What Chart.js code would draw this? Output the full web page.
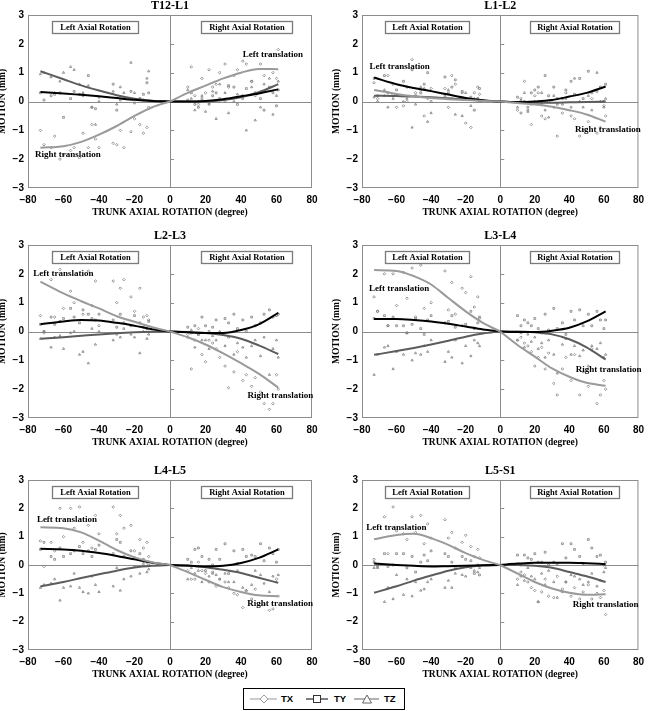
<!DOCTYPE html>
<html>
<head>
<meta charset="utf-8">
<script src="https://cdn.jsdelivr.net/npm/chart.js@4.4.0/dist/chart.umd.min.js"></script>
<style>
  body { margin: 0; background: #fff; width: 650px; height: 711px; position: relative; overflow: hidden; }
  canvas { position: absolute; display: block; }
  #legend {
    position: absolute; left: 243px; top: 688px; width: 160px; height: 20px;
    border: 1px solid #000; background: #fff;
    font: bold 9.5px "Liberation Sans", Arial, sans-serif;
  }
  #legend svg, #legend b { position: absolute; top: 5px; }
  #legend b { top: 4px; line-height: 12px; }
</style>
</head>
<body>
<canvas id="c0" width="325" height="230" style="left:0;top:0"></canvas>
<canvas id="c1" width="325" height="230" style="left:325px;top:0"></canvas>
<canvas id="c2" width="325" height="230" style="left:0;top:230px"></canvas>
<canvas id="c3" width="325" height="230" style="left:325px;top:230px"></canvas>
<canvas id="c4" width="325" height="225" style="left:0;top:460px"></canvas>
<canvas id="c5" width="325" height="225" style="left:325px;top:460px"></canvas>

<div id="legend">
  <svg style="left:6px" width="27" height="10"><line x1="0" y1="5" x2="27" y2="5" stroke="#9a9a9a" stroke-width="1"/><polygon points="14,1 18,5 14,9 10,5" fill="#fff" stroke="#9a9a9a"/></svg>
  <b style="left:37px">TX</b>
  <svg style="left:62px" width="22" height="10"><line x1="0" y1="5" x2="22" y2="5" stroke="#000" stroke-width="1"/><rect x="7.5" y="1.5" width="7" height="7" fill="#fff" stroke="#333"/></svg>
  <b style="left:90px">TY</b>
  <svg style="left:110px" width="25" height="10"><line x1="0" y1="5" x2="25" y2="5" stroke="#666" stroke-width="1"/><polygon points="13,1 17.5,9 8.5,9" fill="#fff" stroke="#666"/></svg>
  <b style="left:140px">TZ</b>
</div>

<script>
// trunk rotation angles of the measured points (two sets of subjects)
const angleA = [-73,-67,-62,-56,-51,-46,-42,-32,-28,-22,-17,-13, 10,14,18,22,26,31,36,41,46,51,56,61];
const angleB = [-71,-65,-60,-54,-49,-44,-40,-30,-26,-20,-15,-12, 12,16,20,24,28,33,38,43,48,53,58,60];

// x positions of the fitted curves
const fitLeftX = [-73,-60,-50,-40,-30,-20,-10,0];
const fitRightX = [0,10,20,30,40,50,61];

const panelTitles = ["T12-L1","L1-L2","L2-L3","L3-L4","L4-L5","L5-S1"];
const xTicks = [-80,-60,-40,-20,0,20,40,60,80];
const yTicks = [-3,-2,-1,0,1,2,3];

// ---- T12-L1 ----
const t12_txA = [-1.0,-1.6,-2.0,-1.7,-1.95,-1.6,-1.3,-1.45,-1.0,-1.05,-0.8,-0.9, 0.5,0.2,0.8,1.1,0.6,1.3,0.9,1.4,0.7,1.3,1.6,1.8];
const t12_txB = [-1.5,-1.2,-1.85,-1.6,-1.1,-0.8,-1.6,-1.5,-1.6,-0.6,-1.1,-0.2, 1.2,-0.1,0.3,0.5,1.0,0.5,1.1,1.3,0.2,0.9,1.0,0.8];
const t12_tyA = [0.3,0.2,0.3,0.1,0.25,0.9,-0.25,0.6,0.05,0.35,0.1,0.65, 0.05,-0.1,0.1,-0.05,0.3,0.0,0.5,0.2,0.7,0.1,0.5,0.4];
const t12_tyB = [0.05,0.25,-0.55,0.35,0.2,-0.2,0.15,-0.3,0.1,-0.05,0.25,0.3, 0.3,-0.2,0.0,0.2,0.1,0.55,-0.1,0.45,0.3,-0.3,0.3,-0.15];
const t12_tzA = [0.95,0.85,0.7,1.2,0.6,0.55,-0.8,0.35,0.5,1.35,0.1,0.8, 0.4,-0.3,0.2,-0.1,-0.6,0.3,0.0,0.1,0.5,-0.2,0.8,0.7];
const t12_tzB = [1.0,0.3,1.0,1.1,0.3,-0.2,0.0,-0.1,0.3,0.3,0.05,1.05, 0.1,0.0,-0.35,0.35,0.6,-0.4,0.25,-1.0,-0.65,0.6,-0.45,0.2];
const t12_txFitL = [-1.6,-1.55,-1.4,-1.15,-0.85,-0.5,-0.2,0];
const t12_txFitR = [0,0.3,0.55,0.8,1.0,1.13,1.12];
const t12_tyFitL = [0.33,0.28,0.23,0.18,0.12,0.06,0.02,0];
const t12_tyFitR = [0,0.0,0.02,0.08,0.18,0.28,0.42];
const t12_tzFitL = [1.05,0.77,0.56,0.38,0.22,0.1,0.03,0];
const t12_tzFitR = [0,0.0,0.0,0.05,0.15,0.32,0.6];

// ---- L1-L2 ----
const l12_txA = [0.65,0.2,0.25,-0.15,1.45,0.4,0.1,0.45,0.9,0.3,-0.9,0.5, -0.3,0.7,-0.8,0.3,-0.6,-0.2,-0.4,-0.5,-1.2,-0.7,-1.1,-0.5];
const l12_txB = [0.1,0.9,-0.2,0.0,0.3,-0.5,0.45,-0.2,0.6,-0.75,0.3,0.25, 0.1,-0.3,0.2,-0.5,0.0,-1.2,0.3,-0.6,-1.0,0.1,-0.9,-0.15];
const l12_tyA = [0.8,0.9,0.6,0.7,1.1,0.3,1.0,0.85,0.5,0.35,0.15,0.1, 0.15,0.0,0.3,0.5,0.9,0.5,0.1,0.7,0.8,1.05,0.35,0.6];
const l12_tyB = [0.2,0.3,0.4,0.5,0.2,0.6,0.0,0.3,0.75,0.1,-0.3,0.45, -0.4,-0.2,0.4,-0.1,0.2,0.1,0.4,0.25,0.1,0.3,0.5,0.0];
const l12_tzA = [0.15,0.4,0.1,0.0,-0.9,0.5,-0.7,0.2,0.1,-0.5,-0.15,0.1, -0.2,0.3,-0.1,0.0,-0.3,0.2,-0.1,-0.2,0.0,0.2,1.0,0.1];
const l12_tzB = [0.0,-0.2,0.2,0.1,-0.1,0.45,-0.4,0.4,-0.45,0.3,0.1,0.0, 0.05,-0.35,0.0,0.3,-0.55,-0.1,0.1,0.8,-0.2,-0.3,0.0,-0.2];
const l12_txFitL = [0.4,0.26,0.18,0.12,0.08,0.05,0.02,0];
const l12_txFitR = [0,-0.05,-0.1,-0.18,-0.3,-0.45,-0.7];
const l12_tyFitL = [0.83,0.6,0.47,0.36,0.24,0.12,0.04,0];
const l12_tyFitR = [0,-0.02,0.0,0.05,0.17,0.3,0.52];
const l12_tzFitL = [0.2,0.19,0.17,0.15,0.11,0.07,0.03,0];
const l12_tzFitR = [0,-0.03,-0.04,-0.04,-0.03,-0.02,0.0];

// ---- L2-L3 ----
const l23_txA = [0.55,1.8,2.15,1.4,2.45,2.1,1.75,1.75,1.5,1.2,1.5,0.55, -0.1,-0.3,-0.8,-0.3,-0.6,-1.2,-1.4,-1.7,-1.9,-2.1,-2.7,-2.0];
const l23_txB = [-0.05,0.5,0.8,1.0,0.6,0.9,0.2,1.0,1.8,0.7,0.5,0.4, -1.3,0.1,-1.05,-0.4,-0.9,-1.95,-0.7,-1.5,-1.6,-2.5,-2.5,-1.5];
const l23_tyA = [0.25,0.5,0.35,0.8,0.3,0.6,0.4,0.4,0.6,0.2,0.3,0.1, 0.15,0.2,0.5,0.0,0.4,0.45,0.6,0.4,0.5,0.3,0.75,0.6];
const l23_tyB = [0.0,0.25,0.45,0.5,0.75,0.45,0.6,0.15,0.3,0.55,0.15,0.35, -0.05,-0.1,0.2,0.15,-0.05,0.3,0.1,0.0,0.2,0.6,0.5,0.55];
const l23_tzA = [-0.25,-0.55,-0.15,-0.05,-0.8,-1.1,-0.45,-0.3,-0.2,-0.1,-0.75,-0.25, -0.2,-0.55,-0.3,-0.6,-0.3,-0.5,-0.8,-0.55,-0.5,-0.85,-1.5,-0.9];
const l23_tzB = [0.0,-0.2,-0.6,0.0,-0.7,0.1,0.0,-0.1,0.1,-0.2,0.0,-0.1, 0.05,-0.1,-0.3,-0.15,0.0,-0.2,-0.4,-0.9,-0.3,-0.2,-0.6,-0.3];
const l23_txFitL = [1.73,1.32,1.05,0.8,0.53,0.34,0.15,0];
const l23_txFitR = [0,-0.2,-0.45,-0.76,-1.1,-1.46,-1.95];
const l23_tyFitL = [0.25,0.35,0.4,0.38,0.3,0.2,0.08,0];
const l23_tyFitR = [0,-0.03,-0.05,-0.05,0.05,0.25,0.65];
const l23_tzFitL = [-0.25,-0.2,-0.15,-0.1,-0.06,-0.03,-0.01,0];
const l23_tzFitR = [0,-0.02,-0.05,-0.12,-0.25,-0.48,-0.78];

// ---- L3-L4 ----
const l34_txA = [1.2,2.0,2.0,2.05,2.2,2.3,2.4,2.1,1.7,1.5,1.9,1.2, -0.3,-0.4,-0.7,-0.9,-1.3,-1.8,-1.3,-1.7,-2.2,-1.9,-2.5,-2.0];
const l34_txB = [0.7,0.2,0.9,1.15,0.5,0.8,1.0,0.75,0.6,1.35,0.85,0.45, -0.2,-0.5,-1.2,-0.55,-0.75,-2.2,-0.9,-0.8,-1.4,-0.6,-2.2,-1.7];
const l34_tyA = [0.45,0.55,0.5,0.2,0.25,0.1,0.4,0.3,0.55,0.2,0.7,0.3, 0.55,0.4,0.2,0.1,0.6,0.8,0.3,0.7,0.75,0.6,0.7,0.4];
const l34_tyB = [0.7,0.2,0.2,-0.05,0.45,-0.1,0.55,0.35,0.15,0.25,0.1,0.5, 0.2,0.3,0.45,-0.05,0.05,0.1,-0.1,0.4,0.2,0.2,0.4,0.1];
const l34_tzA = [-1.5,-0.55,-1.3,-0.8,-1.0,-0.8,-0.7,-1.05,-0.9,-1.1,-0.85,-0.4, -0.3,-0.55,-0.35,-0.6,-0.9,-0.8,-0.45,-0.8,-0.85,-1.2,-0.6,-0.8];
const l34_tzB = [-0.8,-0.5,-0.7,-0.05,-0.75,-0.5,-0.3,-0.7,-0.3,-0.5,-0.3,-0.5, -0.05,-0.1,-0.2,-0.4,-0.3,-1.45,-0.25,-0.5,-0.65,-0.5,-0.4,-0.9];
const l34_txFitL = [2.13,2.1,1.92,1.63,1.16,0.7,0.3,0];
const l34_txFitR = [0,-0.47,-0.87,-1.28,-1.57,-1.78,-1.88];
const l34_tyFitL = [0.43,0.43,0.4,0.35,0.27,0.17,0.07,0];
const l34_tyFitR = [0,-0.02,-0.02,0.03,0.13,0.35,0.7];
const l34_tzFitL = [-0.81,-0.68,-0.57,-0.45,-0.32,-0.18,-0.07,0];
const l34_tzFitR = [0,0.0,-0.03,-0.1,-0.27,-0.55,-0.97];

// ---- L4-L5 ----
const l45_txA = [0.85,0.8,2.0,2.0,2.05,1.4,1.75,2.05,1.75,1.4,0.9,0.8, -0.2,-0.5,-0.2,-0.6,-0.75,-0.6,-1.0,-1.5,-1.2,-1.4,-1.6,-1.1];
const l45_txB = [-0.05,0.5,1.0,1.3,0.8,0.6,1.1,1.1,1.3,0.5,0.6,0.3, -0.5,0.1,-0.3,-0.25,-0.5,-0.8,-1.05,-0.9,-0.85,-1.4,-1.55,-0.5];
const l45_tyA = [0.55,0.3,0.6,0.4,0.65,0.5,0.55,0.4,0.8,0.5,0.4,0.1, 0.2,0.55,0.3,0.2,0.55,0.75,0.5,0.55,0.35,0.75,0.6,0.55];
const l45_tyB = [0.8,0.2,0.3,0.5,0.4,0.3,0.7,0.9,0.3,0.25,0.2,0.0, 0.1,0.6,-0.2,0.0,0.2,-0.3,0.05,0.3,0.3,0.15,0.4,0.1];
const l45_tzA = [-0.8,-0.65,-1.25,-0.75,-0.8,-1.0,-0.7,-0.75,-0.9,-0.4,-0.3,-0.25, -0.5,-0.3,-0.6,-0.4,-0.35,-0.3,-0.6,-0.8,-0.7,-0.35,-0.95,-0.35];
const l45_tzB = [-0.7,-0.5,-0.8,-0.3,-0.95,-0.4,-0.95,-0.1,-0.5,-0.05,0.05,-0.15, -0.1,-0.2,-0.05,-0.3,-0.5,-0.6,-0.2,-0.9,-0.2,-0.65,-0.4,-0.6];
const l45_txFitL = [1.33,1.3,1.15,0.86,0.53,0.27,0.1,0];
const l45_txFitR = [0,-0.25,-0.52,-0.78,-0.95,-1.07,-1.1];
const l45_tyFitL = [0.57,0.55,0.5,0.42,0.32,0.2,0.08,0];
const l45_tyFitR = [0,-0.02,-0.05,-0.03,0.07,0.25,0.55];
const l45_tzFitL = [-0.76,-0.6,-0.46,-0.33,-0.2,-0.09,-0.03,0];
const l45_tzFitR = [0,-0.03,-0.08,-0.17,-0.28,-0.45,-0.63];

// ---- L5-S1 ----
const l5s_txA = [0.2,1.7,2.05,1.1,1.7,1.75,1.45,1.6,1.15,0.8,0.65,0.55, -0.5,-0.35,-0.8,-1.3,-0.5,-1.15,-0.85,-1.1,-1.2,-0.7,-1.0,-1.75];
const l5s_txB = [0.0,0.4,1.2,0.9,1.15,0.75,0.95,0.95,0.6,1.05,0.3,0.25, -0.25,-0.6,-0.9,-0.95,-1.1,-0.4,-0.6,-0.8,-0.95,-1.2,-1.15,-0.9];
const l5s_tyA = [0.1,0.4,0.0,0.4,0.3,0.1,0.15,0.4,0.1,0.3,0.15,0.0, 0.35,0.35,0.2,0.1,0.45,0.1,0.75,0.75,0.3,0.9,0.3,0.1];
const l5s_tyB = [-0.05,-0.05,0.4,-0.1,-0.25,0.35,0.5,0.3,-0.1,0.2,-0.3,-0.35, 0.0,0.25,0.4,0.1,0.0,0.05,0.25,0.55,0.05,0.6,0.35,0.0];
const l5s_tzA = [-0.1,-1.3,-1.2,-1.05,-1.1,-0.9,-0.6,-0.8,-0.8,-0.35,-0.1,-0.25, -0.7,-0.55,-0.4,-1.3,-0.7,-0.6,-0.95,-0.35,-0.5,-0.6,-0.75,-0.1];
const l5s_tzB = [-0.1,-0.8,-0.35,-0.5,-0.6,-0.85,-0.5,-0.55,-0.3,-0.4,-0.2,-0.1, -0.4,-0.1,-0.5,-0.3,-0.2,-1.15,-0.6,-0.4,-0.7,-0.3,-0.55,-0.25];
const l5s_txFitL = [0.91,1.06,1.1,0.95,0.71,0.42,0.18,0];
const l5s_txFitR = [0,-0.3,-0.6,-0.83,-0.98,-1.05,-1.03];
const l5s_tyFitL = [0.05,0.0,-0.03,-0.05,-0.04,-0.03,-0.01,0];
const l5s_tyFitR = [0,0.05,0.08,0.08,0.08,0.06,0.03];
const l5s_tzFitL = [-0.98,-0.75,-0.55,-0.37,-0.2,-0.08,-0.02,0];
const l5s_tzFitR = [0,0.0,-0.03,-0.1,-0.25,-0.4,-0.6];

// where "Left translation" / "Right translation" sit, [x, y] in data units
const leftLabelPos  = [[41,1.63],[-75.6,1.2],[-77,1.99],[-76,1.48],[-75,1.59],[-77.5,1.3]];
const rightLabelPos = [[-76,-1.83],[43.3,-0.99],[43.6,-2.21],[43.7,-1.34],[43.5,-1.38],[42,-1.39]];

const panels = [
  { tx:[t12_txA,t12_txB], ty:[t12_tyA,t12_tyB], tz:[t12_tzA,t12_tzB],
    fit:{tx:[t12_txFitL,t12_txFitR], ty:[t12_tyFitL,t12_tyFitR], tz:[t12_tzFitL,t12_tzFitR]} },
  { tx:[l12_txA,l12_txB], ty:[l12_tyA,l12_tyB], tz:[l12_tzA,l12_tzB],
    fit:{tx:[l12_txFitL,l12_txFitR], ty:[l12_tyFitL,l12_tyFitR], tz:[l12_tzFitL,l12_tzFitR]} },
  { tx:[l23_txA,l23_txB], ty:[l23_tyA,l23_tyB], tz:[l23_tzA,l23_tzB],
    fit:{tx:[l23_txFitL,l23_txFitR], ty:[l23_tyFitL,l23_tyFitR], tz:[l23_tzFitL,l23_tzFitR]} },
  { tx:[l34_txA,l34_txB], ty:[l34_tyA,l34_tyB], tz:[l34_tzA,l34_tzB],
    fit:{tx:[l34_txFitL,l34_txFitR], ty:[l34_tyFitL,l34_tyFitR], tz:[l34_tzFitL,l34_tzFitR]} },
  { tx:[l45_txA,l45_txB], ty:[l45_tyA,l45_tyB], tz:[l45_tzA,l45_tzB],
    fit:{tx:[l45_txFitL,l45_txFitR], ty:[l45_tyFitL,l45_tyFitR], tz:[l45_tzFitL,l45_tzFitR]} },
  { tx:[l5s_txA,l5s_txB], ty:[l5s_tyA,l5s_tyB], tz:[l5s_tzA,l5s_tzB],
    fit:{tx:[l5s_txFitL,l5s_txFitR], ty:[l5s_tyFitL,l5s_tyFitR], tz:[l5s_tzFitL,l5s_tzFitR]} }
];

const SERIF = '"Liberation Serif", "Times New Roman", serif';
const SANS = '"Liberation Sans", Arial, sans-serif';
const lineColor = { tx: "#9a9a9a", ty: "#000000", tz: "#5c5c5c" };
const markStyle = { tx: "rectRot", ty: "rect", tz: "triangle" };

function pts(xs, ys) {
  return xs.map((x, i) => ({ x: x, y: ys[i] }));
}
function minus(v) {
  return String(v).replace("-", "\u2212");
}

function buildDatasets(p) {
  const ds = [];
  ["tx", "ty", "tz"].forEach(k => {
    ds.push({
      data: pts(fitLeftX, p.fit[k][0]), showLine: true, pointRadius: 0,
      borderColor: lineColor[k], borderWidth: 2, tension: 0.4,
      cubicInterpolationMode: "monotone", order: 0
    });
    ds.push({
      data: pts(fitRightX, p.fit[k][1]), showLine: true, pointRadius: 0,
      borderColor: lineColor[k], borderWidth: 2, tension: 0.4,
      cubicInterpolationMode: "monotone", order: 0
    });
  });
  ["tx", "ty", "tz"].forEach(k => {
    ds.push({
      data: pts(angleA, p[k][0]).concat(pts(angleB, p[k][1])),
      showLine: false, pointStyle: markStyle[k], pointRadius: 1.3,
      borderWidth: 0.8, borderColor: "#808080", backgroundColor: "rgba(255,255,255,0)",
      order: 1
    });
  });
  return ds;
}

// frame, zero lines, boxes and all the text
const framePlugin = {
  id: "frame",
  beforeDatasetsDraw(chart) {
    const { ctx, chartArea: a, scales } = chart;
    const x0 = scales.x.getPixelForValue(0);
    const y0 = scales.y.getPixelForValue(0);
    ctx.save();
    ctx.strokeStyle = "#8c8c8c";
    ctx.lineWidth = 1;
    ctx.strokeRect(a.left + 0.5, a.top + 0.5, a.right - a.left - 1, a.bottom - a.top - 1);
    ctx.beginPath();
    ctx.moveTo(Math.round(x0) + 0.5, a.top);
    ctx.lineTo(Math.round(x0) + 0.5, a.bottom);
    ctx.moveTo(a.left, Math.round(y0) + 0.5);
    ctx.lineTo(a.right, Math.round(y0) + 0.5);
    yTicks.forEach(v => {
      if (v === 0 || Math.abs(v) === 3) return;
      const y = Math.round(scales.y.getPixelForValue(v)) + 0.5;
      ctx.moveTo(x0, y);
      ctx.lineTo(x0 + 4, y);
    });
    ctx.stroke();
    ctx.restore();
  },
  afterDatasetsDraw(chart, args, opts) {
    const { ctx, chartArea: a, scales } = chart;
    const sx = v => scales.x.getPixelForValue(v);
    const sy = v => scales.y.getPixelForValue(v);
    ctx.save();
    // rotation boxes
    [[-66.7, -17.8, "Left Axial Rotation"], [17.4, 68.6, "Right Axial Rotation"]].forEach(b => {
      const l = Math.round(sx(b[0])) + 0.5, r = Math.round(sx(b[1])) + 0.5;
      const t = Math.round(sy(2.8)) + 0.5, btm = Math.round(sy(2.37)) + 0.5;
      ctx.fillStyle = "#fff";
      ctx.fillRect(l, t, r - l, btm - t);
      ctx.strokeStyle = "#7a7a7a";
      ctx.lineWidth = 1.3;
      ctx.strokeRect(l, t, r - l, btm - t);
      ctx.fillStyle = "#000";
      ctx.font = "bold 8.5px " + SERIF;
      ctx.textAlign = "center";
      ctx.textBaseline = "middle";
      ctx.fillText(b[2], (l + r) / 2, (t + btm) / 2 + 0.5);
    });
    // translation labels
    ctx.font = "bold 9px " + SERIF;
    ctx.textAlign = "left";
    ctx.textBaseline = "middle";
    ctx.fillStyle = "#000";
    const lp = leftLabelPos[opts.idx], rp = rightLabelPos[opts.idx];
    ctx.fillText("Left translation", sx(lp[0]), sy(lp[1]));
    ctx.fillText("Right translation", sx(rp[0]), sy(rp[1]));
    // titles
    const cx = (a.left + a.right) / 2;
    ctx.textAlign = "center";
    ctx.font = "bold 12px " + SERIF;
    ctx.fillText(panelTitles[opts.idx], cx, a.top - 9);
    ctx.font = "bold 9.5px " + SERIF;
    ctx.fillText("TRUNK AXIAL ROTATION (degree)", cx, a.bottom + 25);
    ctx.translate(a.left - 25, (a.top + a.bottom) / 2);
    ctx.rotate(-Math.PI / 2);
    ctx.fillText("MOTION (mm)", 0, 0);
    ctx.restore();
  }
};

panels.forEach((p, idx) => {
  const col = idx % 2;
  const row = Math.floor(idx / 2);
  const yW = col === 0 ? 28 : 37;
  const padR = col === 0 ? 13 : 7;
  const padT = row === 2 ? 20 : 15;
  const xH = row === 2 ? 35 : 42;
  new Chart(document.getElementById("c" + idx), {
    type: "scatter",
    data: { datasets: buildDatasets(p) },
    options: {
      responsive: false,
      animation: false,
      layout: { padding: { top: padT, right: padR, left: 0, bottom: 0 } },
      plugins: {
        legend: { display: false },
        tooltip: { enabled: false },
        frame: { idx: idx }
      },
      scales: {
        x: {
          type: "linear", min: -80, max: 80,
          afterBuildTicks: s => { s.ticks = xTicks.map(v => ({ value: v })); },
          afterFit: s => { s.height = xH; },
          grid: { display: false, drawTicks: false },
          border: { display: false },
          ticks: {
            autoSkip: false, maxRotation: 0, padding: 6, color: "#000",
            font: { family: SANS, size: 10, weight: "bold" },
            callback: v => minus(v)
          }
        },
        y: {
          type: "linear", min: -3, max: 3,
          afterBuildTicks: s => { s.ticks = yTicks.map(v => ({ value: v })); },
          afterFit: s => { s.width = yW; },
          grid: { display: false, drawTicks: false },
          border: { display: false },
          ticks: {
            padding: 4, color: "#000",
            font: { family: SANS, size: 10, weight: "bold" },
            callback: v => minus(v)
          }
        }
      }
    },
    plugins: [framePlugin]
  });
});
</script>
</body>
</html>
